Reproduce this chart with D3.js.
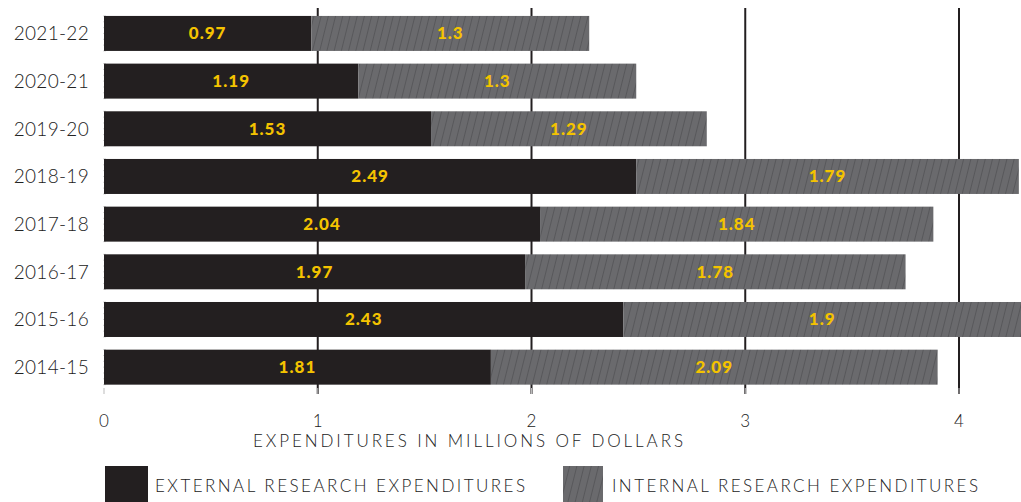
<!DOCTYPE html>
<html><head><meta charset="utf-8">
<script src="https://cdn.jsdelivr.net/npm/d3@7"></script>
<style>
html,body{margin:0;padding:0;background:#fff;}
svg{display:block;}
</style></head>
<body>
<script>
const years = ["2021-22","2020-21","2019-20","2018-19","2017-18","2016-17","2015-16","2014-15"];
const externalValues = [0.97,1.19,1.53,2.49,2.04,1.97,2.43,1.81];
const internalValues = [1.3,1.3,1.29,1.79,1.84,1.78,1.9,2.09];
const xTicks = [0,1,2,3,4];
const seriesNames = ["EXTERNAL RESEARCH EXPENDITURES","INTERNAL RESEARCH EXPENDITURES"];
const axisTitle = "EXPENDITURES IN MILLIONS OF DOLLARS";

const W = 1021, H = 502;
const svg = d3.select("body").append("svg").attr("width", W).attr("height", H);
const defs = svg.append("defs");
const pat = defs.append("pattern").attr("id","hatch").attr("patternUnits","userSpaceOnUse")
  .attr("width",7).attr("height",7).attr("patternTransform","rotate(14)");
pat.append("rect").attr("width",7).attr("height",7).attr("fill","#6a6a6d");
pat.append("line").attr("x1",0.5).attr("y1",0).attr("x2",0.5).attr("y2",7)
  .attr("stroke","#58585b").attr("stroke-width",1);
defs.append("clipPath").attr("id","clip").append("rect").attr("x",0).attr("y",0).attr("width",W).attr("height",H);

const x = d3.scaleLinear().domain([0,4]).range([104,959]);
const y = d3.scaleBand().domain(years).range([9.6,391]).paddingInner(0.266).paddingOuter(0.133);

// gridlines
svg.append("g").selectAll("line").data(xTicks.filter(d=>d>0)).join("line")
  .attr("x1",d=>x(d)).attr("x2",d=>x(d)).attr("y1",8).attr("y2",394)
  .attr("stroke","#231f20").attr("stroke-width",2);

// small ticks at bottom
svg.append("g").selectAll("line").data(xTicks).join("line")
  .attr("x1",d=>x(d)).attr("x2",d=>x(d)).attr("y1",388).attr("y2",394)
  .attr("stroke","#bbb").attr("stroke-width",1);

// left axis small ticks
const leftTicks = [];
years.forEach(yr=>{ for(let i=0;i<=6;i++) leftTicks.push(y(yr)+i*y.bandwidth()/6); });
svg.append("g").selectAll("line").data(leftTicks).join("line")
  .attr("x1",103).attr("x2",106).attr("y1",d=>d).attr("y2",d=>d)
  .attr("stroke","#bbb").attr("stroke-width",0.6);

const bars = svg.append("g").attr("clip-path","url(#clip)");
bars.selectAll("rect.ext").data(years).join("rect").attr("class","ext")
  .attr("x",x(0)).attr("y",d=>y(d)).attr("height",y.bandwidth())
  .attr("width",(d,i)=>x(externalValues[i])-x(0)).attr("fill","#231f20");
bars.selectAll("rect.int").data(years).join("rect").attr("class","int")
  .attr("x",(d,i)=>x(externalValues[i])).attr("y",d=>y(d)).attr("height",y.bandwidth())
  .attr("width",(d,i)=>x(externalValues[i]+internalValues[i])-x(externalValues[i])).attr("fill","url(#hatch)");

const lblFont = "Lato, 'Open Sans', sans-serif";
const lbl = svg.append("g").attr("font-family",lblFont).attr("font-weight",900)
  .attr("font-size",17).attr("fill","#f4c300").attr("text-anchor","middle").attr("letter-spacing",1);
years.forEach((yr,i)=>{
  const cy = y(yr)+y.bandwidth()/2+6;
  lbl.append("text").attr("x",(x(0)+x(externalValues[i]))/2).attr("y",cy).text(externalValues[i]);
  const s = x(externalValues[i]), e = Math.min(W, x(externalValues[i]+internalValues[i]));
  lbl.append("text").attr("x",(s+e)/2).attr("y",cy).text(internalValues[i]);
});

const txtColor = "#222";
// year labels
svg.append("g").selectAll("text").data(years).join("text")
  .attr("x",89).attr("y",d=>y(d)+y.bandwidth()/2+7).attr("text-anchor","end")
  .attr("font-family",lblFont).attr("font-weight",300).attr("font-size",19).attr("letter-spacing",0.3).attr("fill",txtColor)
  .text(d=>d);

// x tick labels
svg.append("g").selectAll("text").data(xTicks).join("text")
  .attr("x",d=>x(d)).attr("y",427).attr("text-anchor","middle")
  .attr("font-family",lblFont).attr("font-weight",300).attr("font-size",17).attr("fill",txtColor).text(d=>d);

svg.append("text").attr("x",468).attr("y",447).attr("text-anchor","middle")
  .attr("font-family",lblFont).attr("font-weight",300).attr("font-size",17).attr("fill",txtColor)
  .attr("textLength",430).attr("lengthAdjust","spacing").text(axisTitle);

// legend
svg.append("rect").attr("x",105).attr("y",466).attr("width",43).attr("height",40).attr("fill","#231f20");
svg.append("rect").attr("x",563).attr("y",466).attr("width",40).attr("height",40).attr("fill","url(#hatch)");
svg.append("text").attr("x",155).attr("y",492).attr("font-family",lblFont).attr("font-weight",300).attr("font-size",17).attr("fill",txtColor)
  .attr("textLength",370).attr("lengthAdjust","spacing").text(seriesNames[0]);
svg.append("text").attr("x",612).attr("y",492).attr("font-family",lblFont).attr("font-weight",300).attr("font-size",17).attr("fill",txtColor)
  .attr("textLength",366).attr("lengthAdjust","spacing").text(seriesNames[1]);
</script>
</body></html>
